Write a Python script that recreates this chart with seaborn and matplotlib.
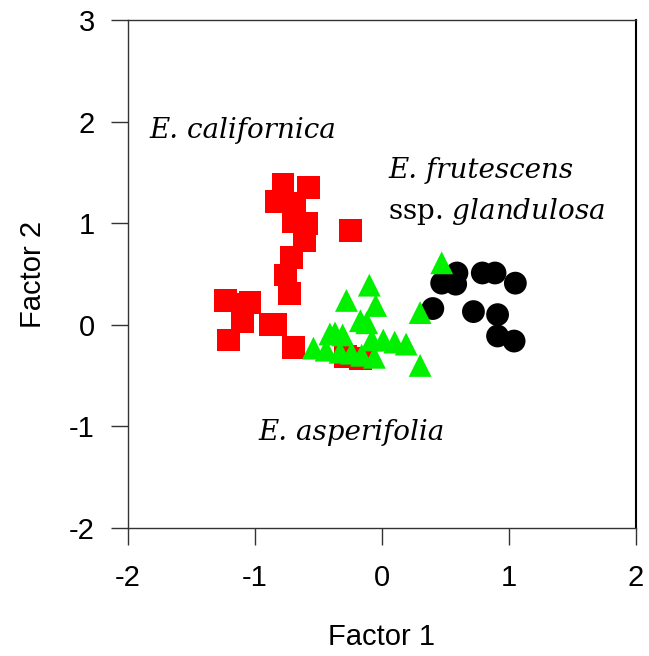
import matplotlib
matplotlib.use("Agg")
import matplotlib.pyplot as plt
import pandas as pd
import seaborn as sns

# Factor scores
cal_x = [-0.78, -0.58, -0.83, -0.69, -0.70, -0.59, -0.61, -0.25, -0.71, -0.76, -0.73,
         -1.23, -1.10, -1.04, -1.10, -0.88, -0.84, -1.21, -0.70, -0.29, -0.17]
cal_y = [1.38, 1.35, 1.21, 1.19, 1.02, 1.00, 0.83, 0.93, 0.66, 0.49, 0.31,
         0.24, 0.20, 0.22, 0.03, 0.00, 0.00, -0.15, -0.22, -0.31, -0.33]

asp_x = [0.47, -0.10, -0.28, -0.05, -0.17, -0.12, 0.30, -0.41, -0.37, -0.31, -0.08,
         0.01, 0.10, 0.19, -0.54, -0.44, -0.33, -0.24, -0.16, -0.06, 0.30]
asp_y = [0.61, 0.39, 0.24, 0.19, 0.04, 0.02, 0.12, -0.09, -0.08, -0.10, -0.15,
         -0.15, -0.17, -0.19, -0.23, -0.25, -0.27, -0.28, -0.30, -0.32, -0.40]

fru_x = [0.59, 0.79, 0.89, 0.47, 0.58, 1.05, 0.40, 0.72, 0.91, 0.91, 1.04]
fru_y = [0.51, 0.51, 0.51, 0.41, 0.40, 0.41, 0.16, 0.13, 0.10, -0.11, -0.16]

df = pd.concat([
    pd.DataFrame({"f1": cal_x, "f2": cal_y, "sp": "cal"}),
    pd.DataFrame({"f1": fru_x, "f2": fru_y, "sp": "fru"}),
    pd.DataFrame({"f1": asp_x, "f2": asp_y, "sp": "asp"}),
])

sns.set_style("ticks")
plt.rcParams["font.family"] = ["Liberation Sans", "DejaVu Sans"]
plt.rcParams["axes.unicode_minus"] = False
plt.rcParams["text.color"] = "black"
plt.rcParams["axes.labelcolor"] = "black"
plt.rcParams["xtick.color"] = "#333333"
plt.rcParams["ytick.color"] = "#333333"
plt.rcParams["xtick.labelcolor"] = "black"
plt.rcParams["ytick.labelcolor"] = "black"
plt.rcParams["mathtext.fontset"] = "custom"
plt.rcParams["mathtext.rm"] = "DejaVu Serif"
plt.rcParams["mathtext.it"] = "DejaVu Serif:italic"

fig = plt.figure(figsize=(6.49, 6.56), dpi=100)
ax = fig.add_axes([128 / 649, 1 - 528 / 656, 508 / 649, 508 / 656])

sns.scatterplot(data=df, x="f1", y="f2", hue="sp", style="sp",
                palette={"cal": "#ff0000", "fru": "black", "asp": "#00f000"},
                markers={"cal": "s", "fru": "o", "asp": "^"},
                s=270, linewidth=0, legend=False, ax=ax)

ax.set_xlim(-2, 2)
ax.set_ylim(-2, 3)
ax.set_xticks([-2, -1, 0, 1, 2])
ax.set_yticks([-2, -1, 0, 1, 2, 3])
ax.tick_params(labelsize=21, length=12, width=1)
ax.tick_params(axis="x", pad=14)
ax.tick_params(axis="y", pad=12)
for sp in ax.spines.values():
    sp.set_color("#333333")
    sp.set_linewidth(1)
ax.spines["right"].set_color("black")
ax.spines["right"].set_linewidth(1.5)
ax.set_xlabel("Factor 1", fontsize=21, labelpad=22)
ax.set_ylabel("Factor 2", fontsize=21, labelpad=16)

tk = dict(fontsize=20, family="DejaVu Serif")
ax.text(-1.83, 1.84, "E. californica", style="italic", **tk)
ax.text(0.05, 1.44, "E. frutescens", style="italic", **tk)
ax.text(0.05, 1.04, "ssp. $\\mathit{glandulosa}$", **tk)
ax.text(-0.97, -1.13, "E. asperifolia", style="italic", **tk)

fig.savefig("out.png", dpi=100)
